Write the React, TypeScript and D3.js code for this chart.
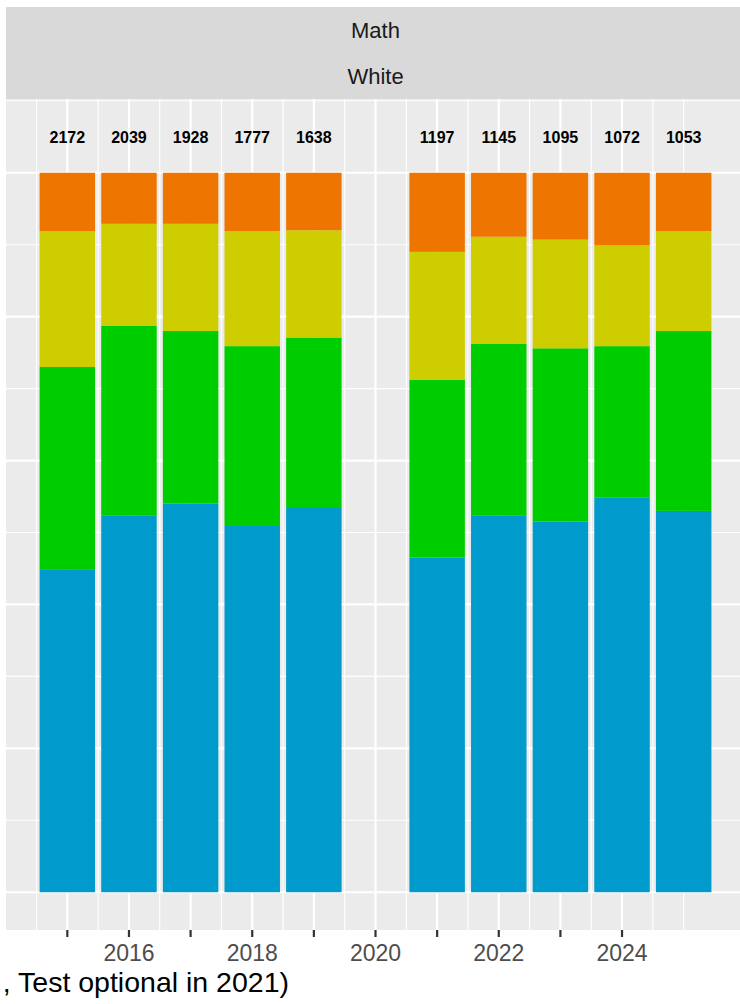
import React from 'react';
import * as d3 from 'd3';

// survey years (no test in 2020)
const years = [2015, 2016, 2017, 2018, 2019, 2021, 2022, 2023, 2024, 2025];
const counts = [2172, 2039, 1928, 1777, 1638, 1197, 1145, 1095, 1072, 1053];

// percent of students per level, bottom to top of each bar
const level4 = [44.9, 52.4, 54.0, 50.9, 53.4, 46.5, 52.4, 51.5, 54.9, 53.0];
const level3 = [28.1, 26.3, 24.0, 25.0, 23.7, 24.7, 23.8, 24.1, 21.0, 25.0];
const level2 = [18.9, 14.2, 14.9, 16.0, 14.9, 17.8, 14.9, 15.1, 14.0, 13.9];
const level1 = [8.1, 7.1, 7.1, 8.1, 8.0, 11.0, 8.9, 9.3, 10.1, 8.1];

const levels = ['Level 4', 'Level 3', 'Level 2', 'Level 1'];
const levelColors = ['#009ACD', '#00CD00', '#CDCD00', '#EE7600'];

const tickYears = [2015, 2016, 2017, 2018, 2019, 2020, 2021, 2022, 2023, 2024];
const labelYears = [2016, 2018, 2020, 2022, 2024];
const facetLabels = ['Math', 'White'];
const caption = ', Test optional in 2021)';

const W = 740;
const H = 1004;
const FONT = '"Liberation Sans", Arial, sans-serif';

const App: React.FC = () => {
  const panel = { left: 6, right: 745, top: 99, bottom: 930 };
  const stripTop = 7;
  const stripRow = 46;

  const x = d3.scaleLinear().domain([2014.005, 2025.995]).range([panel.left, panel.right]);
  const y = d3.scaleLinear().domain([-0.0525, 1.1025]).range([panel.bottom, panel.top]);

  const rows = years.map((yr, i) => ({
    year: yr,
    'Level 4': level4[i],
    'Level 3': level3[i],
    'Level 2': level2[i],
    'Level 1': level1[i],
  }));

  const stack = d3.stack<any>().keys(levels).offset(d3.stackOffsetExpand);
  const series = stack(rows);

  const color = d3.scaleOrdinal<string>().domain(levels).range(levelColors);

  // grid: major at each year / every 0.2, minor halfway between
  const xMajor = d3.range(2015, 2025, 1);
  const xMinor = d3.range(2014.5, 2025.01, 0.5).filter(v => !xMajor.includes(v));
  const yMajor = d3.range(0, 1.01, 0.2);
  const yMinor = [0.1, 0.3, 0.5, 0.7, 0.9, 1.1];

  const barW = x(2015.45) - x(2014.55);

  return (
    <svg
      width={W}
      height={H}
      style={{ position: 'absolute', left: 0, top: 0, background: '#fff' }}
      fontFamily={FONT}
    >
      <defs>
        <clipPath id="pclip">
          <rect x={0} y={0} width={W} height={H} />
        </clipPath>
      </defs>

      {/* strips */}
      <rect x={panel.left} y={stripTop} width={panel.right - panel.left} height={panel.top - stripTop} fill="#D9D9D9" />
      {facetLabels.map((lab, i) => (
        <text
          key={lab}
          x={(panel.left + panel.right) / 2}
          y={stripTop + stripRow * i + stripRow / 2 + 7.8}
          textAnchor="middle"
          fontSize={22}
          fill="#1A1A1A"
        >
          {lab}
        </text>
      ))}

      {/* panel */}
      <rect x={panel.left} y={panel.top} width={panel.right - panel.left} height={panel.bottom - panel.top} fill="#EBEBEB" />
      <g clipPath="url(#pclip)">
        {yMinor.map(v => (
          <line key={'ym' + v} x1={panel.left} x2={panel.right} y1={y(v)} y2={y(v)} stroke="#fff" strokeWidth={1.1} />
        ))}
        {xMinor.map(v => (
          <line key={'xm' + v} x1={x(v)} x2={x(v)} y1={panel.top} y2={panel.bottom} stroke="#fff" strokeWidth={1.1} />
        ))}
        {yMajor.map(v => (
          <line key={'yM' + v} x1={panel.left} x2={panel.right} y1={y(v)} y2={y(v)} stroke="#fff" strokeWidth={2.2} />
        ))}
        {xMajor.map(v => (
          <line key={'xM' + v} x1={x(v)} x2={x(v)} y1={panel.top} y2={panel.bottom} stroke="#fff" strokeWidth={2.2} />
        ))}

        {series.map(s => (
          <g key={s.key} fill={color(s.key)}>
            {s.map(d => (
              <rect
                key={d.data.year}
                x={x(d.data.year) - barW / 2}
                width={barW}
                y={y(d[1])}
                height={y(d[0]) - y(d[1])}
              />
            ))}
          </g>
        ))}

        {years.map((yr, i) => (
          <text
            key={'n' + yr}
            x={x(yr)}
            y={y(1.05)}
            dy="0.4em"
            textAnchor="middle"
            fontSize={16}
            fontWeight="bold"
            fill="#000"
          >
            {counts[i]}
          </text>
        ))}
      </g>

      {/* x axis */}
      {tickYears.map(v => (
        <line key={'t' + v} x1={x(v)} x2={x(v)} y1={panel.bottom} y2={panel.bottom + 7} stroke="#333333" strokeWidth={2.2} />
      ))}
      {labelYears.map(v => (
        <text key={'l' + v} x={x(v)} y={961} textAnchor="middle" fontSize={23} fill="#4D4D4D">
          {v}
        </text>
      ))}

      {/* caption, cut at the left edge */}
      <text x={289} y={992} textAnchor="end" fontSize={28.5} fill="#000">
        {caption}
      </text>
    </svg>
  );
};

export default App;
